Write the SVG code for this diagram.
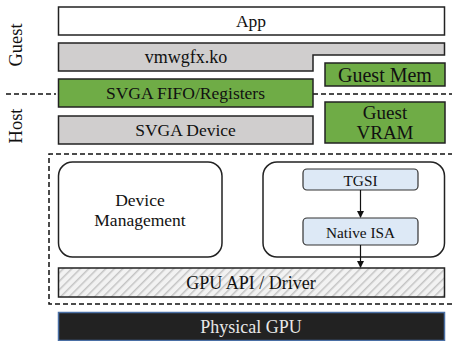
<svg xmlns="http://www.w3.org/2000/svg" width="452" height="341" viewBox="0 0 452 341">
  <style>
    text { font-family: 'Liberation Serif', 'Times New Roman', serif; }
    .lbl { fill: #111; text-anchor: middle; dominant-baseline: central; }
    .box { stroke: #222; stroke-width: 1.5; }
    .white { fill: #fff; }
    .grey { fill: #d0cece; }
    .green { fill: #6fac46; }
    .blue { fill: #dde9f6; stroke: #333; stroke-width: 1.2; }
    .dash { fill: none; stroke: #111; stroke-width: 1.5; stroke-dasharray: 5 3; }
    .conn { stroke: #111; stroke-width: 1.2; fill: none; marker-end: url(#arrow); }
  </style>
  <defs>
    <pattern id="hatch" width="6" height="6" patternUnits="userSpaceOnUse" patternTransform="rotate(45)">
      <rect width="6" height="6" fill="#f2f2f2"/>
      <line x1="0" y1="0" x2="0" y2="6" stroke="#c4c4c4" stroke-width="3"/>
    </pattern>
    <marker id="arrow" markerWidth="8" markerHeight="8" refX="6" refY="4" orient="auto" markerUnits="userSpaceOnUse">
      <path d="M0,0.5 L7,4 L0,7.5 Z" fill="#111"/>
    </marker>
  </defs>

  <!-- side labels and guest/host split -->
  <text class="lbl" font-size="18.5" transform="translate(15.5,45) rotate(-90)">Guest</text>
  <text class="lbl" font-size="18.5" transform="translate(15.5,126) rotate(-90)">Host</text>
  <line class="dash" x1="6" y1="94" x2="56" y2="94"/>
  <line class="dash" x1="313" y1="94" x2="452" y2="94"/>

  <g id="app">
    <rect class="box white" x="58.5" y="7" width="386" height="28"/>
    <text class="lbl" font-size="17.5" x="251" y="21">App</text>
  </g>

  <g id="vmwgfx">
    <path class="box grey" d="M58.5,43 H444.5 V55 H313 V71 H58.5 Z"/>
    <text class="lbl" font-size="18" x="186" y="57">vmwgfx.ko</text>
  </g>

  <g id="guest-mem">
    <rect class="box green" x="325" y="63" width="120" height="23"/>
    <text class="lbl" font-size="20" x="385" y="74.5">Guest Mem</text>
  </g>

  <g id="svga-fifo">
    <rect class="box green" x="58.5" y="79" width="254.5" height="28"/>
    <text class="lbl" font-size="17.5" x="185.5" y="93">SVGA FIFO/Registers</text>
  </g>

  <g id="svga-device">
    <rect class="box grey" x="58.5" y="116" width="254.5" height="28"/>
    <text class="lbl" font-size="17.5" x="185.5" y="130">SVGA Device</text>
  </g>

  <g id="guest-vram">
    <rect class="box green" x="325" y="102" width="120" height="41"/>
    <text class="lbl" font-size="19" x="385" y="112.5">Guest</text>
    <text class="lbl" font-size="19" x="385" y="132">VRAM</text>
  </g>

  <g id="host-stack">
    <path class="dash" d="M453,154 H49 V304 H453"/>
  </g>

  <g id="device-management">
    <rect class="box white" x="58.5" y="162" width="163.5" height="95" rx="14"/>
    <text class="lbl" font-size="17.5" x="140" y="200">Device</text>
    <text class="lbl" font-size="17.5" x="140" y="220">Management</text>
  </g>

  <g id="shader-compiler">
    <rect class="box white" x="263" y="162" width="181.5" height="95" rx="14"/>
  </g>

  <g id="tgsi">
    <rect class="blue" x="303" y="169" width="115" height="21" rx="4"/>
    <text class="lbl" font-size="15.3" x="360.5" y="180">TGSI</text>
  </g>

  <g id="native-isa">
    <rect class="blue" x="303" y="218" width="115" height="27" rx="4"/>
    <text class="lbl" font-size="15.3" x="360.5" y="232">Native ISA</text>
  </g>

  <g id="gpu-api">
    <rect class="box" fill="url(#hatch)" x="58.5" y="268" width="386" height="29"/>
    <text class="lbl" font-size="18" x="251" y="283">GPU API / Driver</text>
  </g>

  <g id="physical-gpu">
    <rect x="58.5" y="312.5" width="386" height="28" fill="#222" stroke="#4a6fa5" stroke-width="1.5"/>
    <text class="lbl" font-size="18" x="251" y="327" style="fill:#e8e8e8">Physical GPU</text>
  </g>

  <g id="connectors">
    <line class="conn" x1="360.5" y1="190" x2="360.5" y2="217"/>
    <line class="conn" x1="360.5" y1="245" x2="360.5" y2="267"/>
  </g>
</svg>
